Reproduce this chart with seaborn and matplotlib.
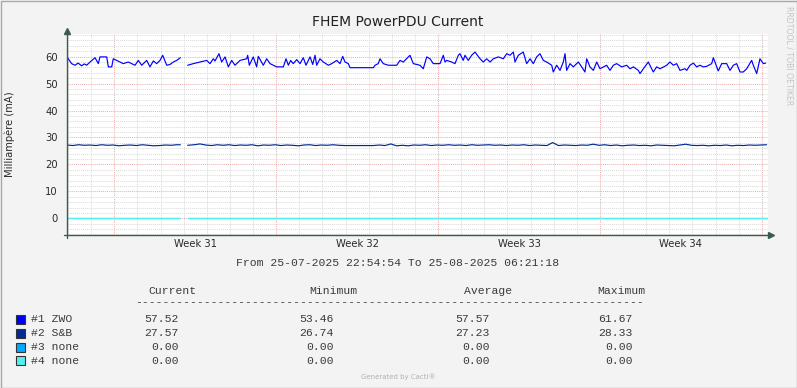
import numpy as np
import pandas as pd
import matplotlib
matplotlib.use("Agg")
import matplotlib.pyplot as plt
import matplotlib.transforms as mtransforms
from matplotlib.lines import Line2D
from matplotlib.patches import Rectangle
import seaborn as sns

# ---------------- data ----------------
start = pd.Timestamp("2025-07-25 22:54:54")
end = pd.Timestamp("2025-08-25 06:21:18")

# hours since start, NaN marks the data gap
zwo_hours = [0, 4.8, 8.3, 11.5, 15.2, 18.0, 20.4, 23.9, 29.1, 32.5, 34.2, 41.2, 42.9, 46.4, 48.0, 55.0, 58.4,
             63.6, 70.6, 74.0, 77.5, 82.7, 86.1, 89.6, 93.1, 96.5, 99.3, 103.5, 106.9, 110.3,
             113.8, 117.6, 121.0,
             125.2, 131.1, 138.0, 145.0, 148.4, 151.8, 153.6, 157.7, 160.5, 164.0, 167.4, 170.9,
             174.3, 179.5, 186.5, 187.5, 189.2, 193.3, 196.8, 198.5, 203.7, 207.2, 210.7, 214.1,
             217.6, 224.5, 227.3, 229.7, 232.1, 234.8, 238.4, 241.8, 245.2, 248.0, 252.2, 255.0,
             257.4, 259.1, 262.5, 266.0, 271.2, 274.7, 279.9, 283.3, 286.1, 288.5, 291.9, 293.7,
             317.9, 319.6, 323.0, 324.8, 328.2, 333.4, 342.1, 345.6, 349.0, 355.9, 359.4, 366.3,
             369.7, 373.3, 376.7, 380.1, 387.1, 390.5, 392.3, 394.0, 399.2, 402.6, 406.1, 407.8,
             411.2, 413.0, 416.4, 419.9, 423.4, 428.6, 432.0, 435.5, 439.0, 442.4, 447.6, 452.8,
             456.3, 459.7, 463.2, 464.9, 468.3, 473.5, 477.0, 480.5, 483.9, 487.4, 490.8, 494.3,
             497.8, 503.0, 504.6, 508.1, 511.6, 515.0, 516.8, 518.5, 522.0, 525.4, 530.6, 534.1,
             537.5, 539.3, 542.7, 546.2, 549.7, 553.1, 560.0, 563.5, 566.9, 570.4, 575.6, 580.8,
             584.2, 587.7, 592.9, 594.6, 598.1, 603.2, 608.4, 611.9, 615.4, 622.3, 625.7, 629.2,
             632.7, 636.1, 641.3, 643.1, 646.5, 650.0, 653.4, 656.9, 660.3, 663.8, 669.0, 670.7,
             672.4, 675.8, 679.4, 684.6, 688.0, 691.5, 694.9, 698.4, 701.8, 705.3, 710.5, 712.2,
             715.7, 719.1, 722.6, 725.0]
zwo_vals = [59.9, 57.4, 56.8, 57.6, 56.6, 57.3, 56.8, 58.0, 59.6, 57.4, 59.9, 59.9, 56.2, 56.2, 59.2, 58.0, 57.4,
            58.0, 56.8, 58.6, 56.8, 58.6, 56.2, 58.4, 57.4, 58.6, 60.5, 56.8, 57.1, 58.0,
            58.6, 59.6, np.nan,
            56.8, 57.4, 58.0, 58.6, 57.4, 59.2, 58.4, 61.1, 58.0, 59.9, 56.2, 58.6,
            56.8, 58.6, 59.2, 60.5, 56.8, 59.9, 56.2, 60.1, 56.8, 59.2, 57.4, 56.8,
            56.2, 56.2, 59.2, 56.8, 58.6, 57.4, 58.9, 57.4, 59.6, 56.8, 59.9, 57.1,
            60.5, 56.8, 59.2, 58.0, 56.8, 57.4, 58.6, 57.4, 60.1, 58.0, 57.4, 55.9,
            55.9, 56.8, 57.4, 59.2, 57.4, 56.8, 56.8, 58.6, 58.0, 60.5, 57.4, 56.8,
            55.5, 59.9, 59.2, 57.4, 57.4, 60.5, 58.0, 58.6, 58.0, 57.4, 60.5, 61.1,
            58.6, 60.5, 58.6, 60.5, 61.7, 59.2, 58.0, 59.2, 58.0, 59.2, 59.9, 59.2,
            61.1, 60.5, 61.7, 58.0, 60.5, 61.7, 57.4, 59.2, 57.4, 59.9, 61.1, 58.6,
            58.0, 56.8, 54.3, 56.8, 54.9, 58.0, 61.1, 54.9, 57.4, 56.2, 58.0, 56.2,
            54.3, 59.2, 56.2, 54.9, 58.0, 55.5, 56.8, 54.9, 56.8, 57.4, 56.2, 56.8,
            55.5, 56.2, 54.9, 53.7, 55.5, 58.0, 54.3, 56.2, 55.5, 56.8, 58.0, 56.8,
            57.4, 54.9, 55.5, 54.9, 56.8, 57.6, 56.2, 56.8, 56.2, 56.4, 57.4, 59.6,
            58.0, 54.7, 57.4, 57.4, 54.9, 56.8, 57.4, 54.3, 54.3, 55.5, 58.6, 56.8,
            53.7, 59.2, 57.4, 57.6]

sb_hours = ([0, 6, 12, 18, 24, 30, 36, 42, 48, 54, 60, 66, 72, 78, 84, 90, 96, 102, 108, 114,
             117.6, 121.0, 125.2] + list(range(132, 727, 6)))
sb_vals = [27.2, 27.0, 27.3, 27.1, 27.2, 27.0, 27.3, 27.1, 27.2, 26.9, 27.1, 27.2, 27.0, 27.3,
           27.1, 26.9, 27.0, 27.2, 27.1, 27.3, 27.3, np.nan, 27.1,
           27.3, 27.6, 27.2, 27.0, 27.3, 27.1, 27.3, 27.0, 27.2, 27.1,
           27.3, 26.9, 27.2, 27.1, 27.3, 27.0, 27.2, 27.1, 26.9, 27.2,
           27.3, 27.0, 27.2, 27.1, 27.3, 27.1, 27.0, 27.0, 27.0, 27.0,
           27.0, 27.0, 27.2, 27.0, 27.6, 26.9, 27.1, 26.9, 27.2, 27.1,
           27.3, 27.0, 27.2, 27.1, 27.3, 27.1, 27.2, 27.0, 27.3, 27.1,
           27.2, 27.3, 27.1, 27.2, 27.0, 27.2, 27.1, 27.3, 27.0, 27.2,
           27.1, 27.0, 28.1, 27.0, 27.2, 27.1, 27.0, 27.2, 27.1, 27.5,
           27.1, 27.3, 27.0, 27.2, 26.9, 27.1, 27.2, 27.0, 27.1, 26.9,
           27.2, 27.1, 27.0, 26.9, 27.2, 27.5, 27.1, 27.0, 27.1, 26.9,
           27.1, 27.0, 27.2, 26.9, 27.1, 27.0, 27.2, 27.1, 27.2, 27.3]

none_hours = [0, 117.6, 121.0, 125.2, 727.4]
none3_vals = [0, 0, np.nan, 0, 0]
none4_vals = [0, 0, np.nan, 0, 0]

series_names = ["#1 ZWO", "#2 S&B", "#3 none", "#4 none"]
series_colors = ["#0000FF", "#002A97", "#00A8FF", "#55EEEE"]
stat_current = ["57.52", "27.57", "0.00", "0.00"]
stat_min = ["53.46", "26.74", "0.00", "0.00"]
stat_avg = ["57.57", "27.23", "0.00", "0.00"]
stat_max = ["61.67", "28.33", "0.00", "0.00"]

week_labels = ["Week 31", "Week 32", "Week 33", "Week 34"]
y_ticks = [0, 10, 20, 30, 40, 50, 60]


def make_df(hours, vals):
    df = pd.DataFrame({"h": hours, "v": vals})
    df["seg"] = df["v"].isna().cumsum()
    df = df.dropna()
    df["t"] = start + pd.to_timedelta(df["h"], unit="h")
    return df


# ---------------- figure ----------------
W, H = 797, 388
sns.set_theme(style="white")
plt.rcParams["font.family"] = ["DejaVu Sans"]

fig = plt.figure(figsize=(W / 100, H / 100), dpi=100, facecolor="#F3F3F3")


def fx(px):
    return px / W


def fy(py):
    return 1 - py / H


ax_l, ax_r, ax_t, ax_b = 67, 768, 34, 235
ax = fig.add_axes([fx(ax_l), fy(ax_b), fx(ax_r) - fx(ax_l), fy(ax_t) - fy(ax_b)])
ax.set_facecolor("white")

datasets = [(zwo_hours, zwo_vals), (sb_hours, sb_vals),
            (none_hours, none3_vals), (none_hours, none4_vals)]
for (hh, vv), col in zip(datasets, series_colors):
    d = make_df(hh, vv)
    sns.lineplot(data=d, x="t", y="v", units="seg", estimator=None, sort=False,
                 color=col, linewidth=0.85, ax=ax, legend=False, zorder=3)

ax.set_xlim(start, end)
ax.set_ylim(-6.2, 68.4)
ax.set_xlabel("")
ax.set_ylabel("")

mondays = pd.date_range("2025-07-28", periods=5, freq="7D")
days = pd.date_range("2025-07-26", "2025-08-25", freq="D")
ax.set_xticks(mondays)
ax.set_xticklabels([""] * len(mondays))
ax.set_xticks(days, minor=True)
ax.set_yticks(y_ticks)
ax.set_yticklabels([str(v) for v in y_ticks])
ax.set_yticks(np.arange(-6, 69, 2), minor=True)

grid_major = "#EBB0B0"
grid_minor = "#DADADA"
ax.set_axisbelow(True)
ax.grid(which="minor", color=grid_minor, linestyle=(0, (1, 1)), linewidth=0.7)
ax.grid(which="major", color=grid_major, linestyle=(0, (1, 1)), linewidth=0.75)
ax.tick_params(which="major", length=2.5, width=0.8, color=grid_major, direction="out",
               labelsize=7.2, labelcolor="#2a2a2a", pad=4.0)
ax.tick_params(which="minor", length=2.5, width=0.8, color=grid_minor, direction="out")
for s in ax.spines.values():
    s.set_visible(False)

# week labels centred in the week
blend = mtransforms.blended_transform_factory(ax.transData, fig.transFigure)
for m, lab in zip(mondays[:4], week_labels):
    ax.text(m + pd.Timedelta(days=3.5), fy(244), lab, transform=blend, ha="center",
            va="center", fontsize=7.2, color="#2a2a2a")

# axes lines with arrows
axis_col = "#3E5A4E"
fig.add_artist(Line2D([fx(67), fx(67)], [fy(237.5), fy(31)], color=axis_col, lw=1.0))
fig.add_artist(Line2D([fx(64), fx(770)], [fy(235), fy(235)], color=axis_col, lw=1.0))
fig.add_artist(Line2D([fx(67)], [fy(31)], marker="^", markersize=4.5, color=axis_col, lw=0))
fig.add_artist(Line2D([fx(771)], [fy(235)], marker=">", markersize=4.5, color=axis_col, lw=0))

# texts
fig.text(fx(398), fy(22), "FHEM PowerPDU Current", ha="center", va="center",
         fontsize=10, color="#222222")
fig.text(fx(10), fy(134), "Milliampère (mA)", ha="center", va="center", rotation=90,
         fontsize=7.2, color="#2a2a2a")
fig.text(fx(789), fy(56), "RRDTOOL / TOBI OETIKER", ha="center", va="center", rotation=270,
         fontsize=5.6, color="#C4C4C4")
fig.text(fx(398), fy(377), "Generated by Cacti®", ha="center", va="center",
         fontsize=5.0, color="#B0B0B0")

mono = dict(family="Liberation Mono", fontsize=8.2, color="#3a3a3a")
fig.text(fx(397.5), fy(263.3), "From 25-07-2025 22:54:54 To 25-08-2025 06:21:18",
         ha="center", va="center", **mono)
for cx, lab in zip([172.5, 333.5, 488.5, 621.5], ["Current", "Minimum", "Average", "Maximum"]):
    fig.text(fx(cx), fy(290.7), lab, ha="center", va="center", **mono)
fig.text(fx(135), fy(302.5), "-" * 74, ha="left", va="center", **mono)

row_y = [319, 333, 347, 360.7]
for i in range(4):
    y = row_y[i]
    fig.add_artist(Rectangle((fx(15.5), fy(y + 4.5)), fx(9), 9 / H, transform=fig.transFigure,
                             facecolor=series_colors[i], edgecolor="#333333", linewidth=0.8))
    fig.text(fx(31), fy(y), series_names[i], ha="left", va="center", **mono)
    for rx, col in zip([178.3, 333.3, 490, 632.3], [stat_current, stat_min, stat_avg, stat_max]):
        fig.text(fx(rx), fy(y), col[i], ha="right", va="center", **mono)

# outer frame
fig.add_artist(Rectangle((0.5 / W, 0.5 / H), 1 - 1 / W, 1 - 1 / H, transform=fig.transFigure,
                         facecolor="none", edgecolor="#A8A8A8", linewidth=1.0))

fig.savefig("out.png", dpi=100, facecolor=fig.get_facecolor())
